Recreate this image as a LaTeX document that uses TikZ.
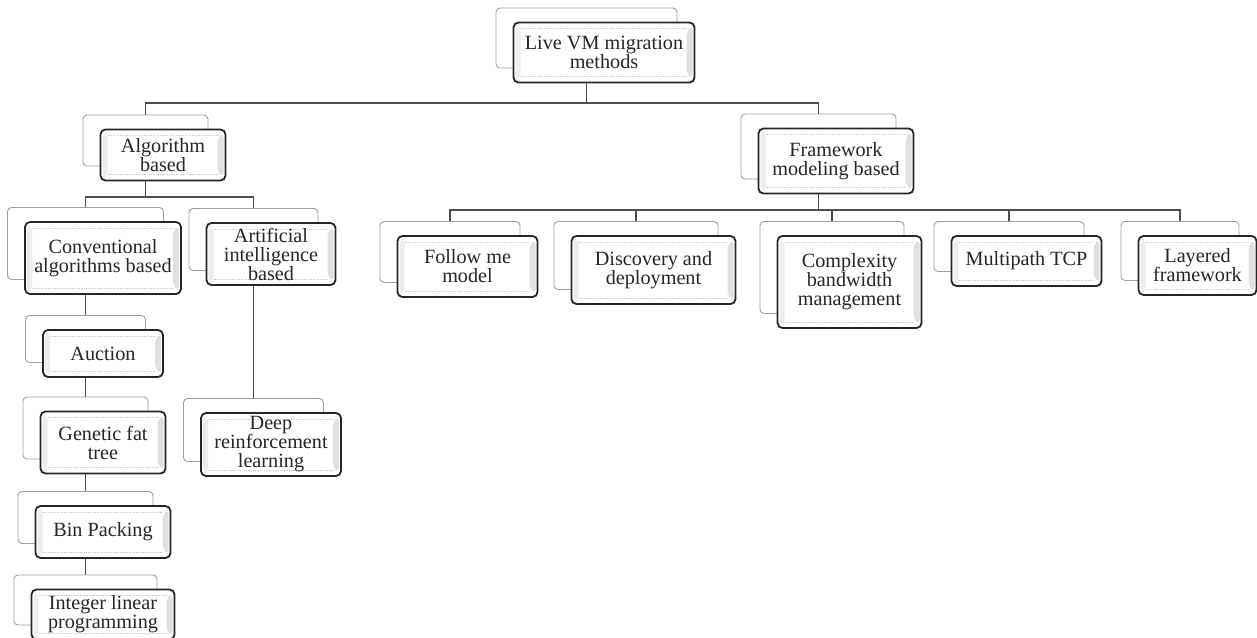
\documentclass[tikz,border=0pt]{standalone}
\usepackage{fontspec}
\setmainfont{Liberation Serif}
\usetikzlibrary{positioning}
\usetikzlibrary{calc}

\tikzset{
    backbox/.style={draw=gray!75, line width=0.9pt, rounded corners=4pt, fill=white, inner sep=0pt},
    frontbox/.style={draw=black!85, line width=1.8pt, rounded corners=5pt, fill=white, inner sep=0pt,
        align=center, text=black!85, font=\fontsize{20.2}{19}\selectfont,
        path picture={
            \path[fill=gray!14] ([shift={(2pt,-3pt)}]path picture bounding box.north west) rectangle ([shift={(7pt,3pt)}]path picture bounding box.south west);
            \path[fill=gray!24] ([shift={(-2pt,-3pt)}]path picture bounding box.north east) -- ([shift={(-8pt,-9pt)}]path picture bounding box.north east)
                -- ([shift={(-8pt,9pt)}]path picture bounding box.south east) -- ([shift={(-2pt,3pt)}]path picture bounding box.south east) -- cycle;
            \path[draw=gray!40, densely dotted, line width=0.8pt] ([shift={(7pt,-6pt)}]path picture bounding box.north west) -- ([shift={(-8pt,-6pt)}]path picture bounding box.north east);
            \path[draw=gray!40, densely dotted, line width=0.8pt] ([shift={(7pt,6pt)}]path picture bounding box.south west) -- ([shift={(-8pt,6pt)}]path picture bounding box.south east);
        }},
    link/.style={draw=black!70, line width=1.1pt}
}

\begin{document}
\begin{tikzpicture}[x=1pt, y=-1pt]
\useasboundingbox (0,0) rectangle (1257,637);

% --- root ---
\node[backbox, minimum width=181pt, minimum height=60pt] (root) at (586.5, 38) {};
\node[frontbox, minimum width=181pt, minimum height=60pt] (rootf) at (604, 52.5) {Live VM migration\\methods};

% --- second level ---
\node[backbox, minimum width=125pt, minimum height=51pt] (alg) at (145.5, 140.5) {};
\node[frontbox, minimum width=125pt, minimum height=51pt] (algf) at (163, 155) {Algorithm\\based};
\node[backbox, minimum width=155pt, minimum height=65pt] (frame) at (818.5, 146.5) {};
\node[frontbox, minimum width=155pt, minimum height=65pt] (framef) at (836, 161) {Framework\\modeling based};

% --- algorithm based ---
\node[backbox, minimum width=156pt, minimum height=72pt] (conv) at (85.5, 243.5) {};
\node[frontbox, minimum width=156pt, minimum height=72pt] (convf) at (103, 258) {Conventional\\algorithms based};
\node[backbox, minimum width=129pt, minimum height=62pt] (ai) at (253.5, 239.5) {};
\node[frontbox, minimum width=129pt, minimum height=62pt] (aif) at (271, 254) {Artificial\\intelligence\\based};
\node[backbox, minimum width=120pt, minimum height=47pt] (auction) at (85.5, 339) {};
\node[frontbox, minimum width=120pt, minimum height=47pt] (auctionf) at (103, 353.5) {Auction};
\node[backbox, minimum width=125pt, minimum height=62pt] (genetic) at (85.5, 428) {};
\node[frontbox, minimum width=125pt, minimum height=62pt] (geneticf) at (103, 442.5) {Genetic fat\\tree};
\node[backbox, minimum width=135pt, minimum height=52pt] (bin) at (85.5, 517.5) {};
\node[frontbox, minimum width=135pt, minimum height=52pt] (binf) at (103, 532) {Bin Packing};
\node[backbox, minimum width=143pt, minimum height=50pt] (integer) at (85.5, 600) {};
\node[frontbox, minimum width=143pt, minimum height=50pt] (integerf) at (103, 614.5) {Integer linear\\programming};
\node[backbox, minimum width=140pt, minimum height=63pt] (drl) at (253.5, 430) {};
\node[frontbox, minimum width=140pt, minimum height=63pt] (drlf) at (271, 444.5) {Deep\\reinforcement\\learning};

% --- framework modeling based ---
\node[backbox, minimum width=140pt, minimum height=61pt] (follow) at (450, 252) {};
\node[frontbox, minimum width=140pt, minimum height=61pt] (followf) at (467.5, 266.5) {Follow me\\model};
\node[backbox, minimum width=164pt, minimum height=68pt] (disc) at (636, 255.5) {};
\node[frontbox, minimum width=164pt, minimum height=68pt] (discf) at (653.5, 270) {Discovery and\\deployment};
\node[backbox, minimum width=144pt, minimum height=92pt] (cplx) at (832, 267.5) {};
\node[frontbox, minimum width=144pt, minimum height=92pt] (cplxf) at (849.5, 282) {Complexity\\bandwidth\\management};
\node[backbox, minimum width=150pt, minimum height=50pt] (multi) at (1009, 246.5) {};
\node[frontbox, minimum width=150pt, minimum height=50pt] (multif) at (1026.5, 261) {Multipath TCP};
\node[backbox, minimum width=118pt, minimum height=59pt] (layer) at (1180, 251) {};
\node[frontbox, minimum width=118pt, minimum height=59pt] (layerf) at (1197.5, 265.5) {Layered\\framework};

% --- connectors ---
\coordinate (jroot) at (586.5, 103);
\draw[link] (root |- rootf.south) -- (jroot);
\draw[link] (alg.north) |- (jroot) -| (frame.north);

\coordinate (jalg) at (145.5, 197);
\draw[link] (alg |- algf.south) -- (jalg);
\draw[link] (conv.north) |- (jalg) -| (ai.north);
\draw[link] (conv |- convf.south) -- (auction.north);
\draw[link] (auction |- auctionf.south) -- (genetic.north);
\draw[link] (genetic |- geneticf.south) -- (bin.north);
\draw[link] (bin |- binf.south) -- (integer.north);
\draw[link] (ai |- aif.south) -- (drl.north);

\coordinate (jframe) at (818.5, 210);
\draw[link] (frame |- framef.south) -- (jframe);
\draw[link] (follow.north) |- (jframe) -| (layer.north);
\foreach \n in {disc, cplx, multi} {
    \draw[link] (\n.north) -- (\n.north |- jframe);
}
\end{tikzpicture}
\end{document}
